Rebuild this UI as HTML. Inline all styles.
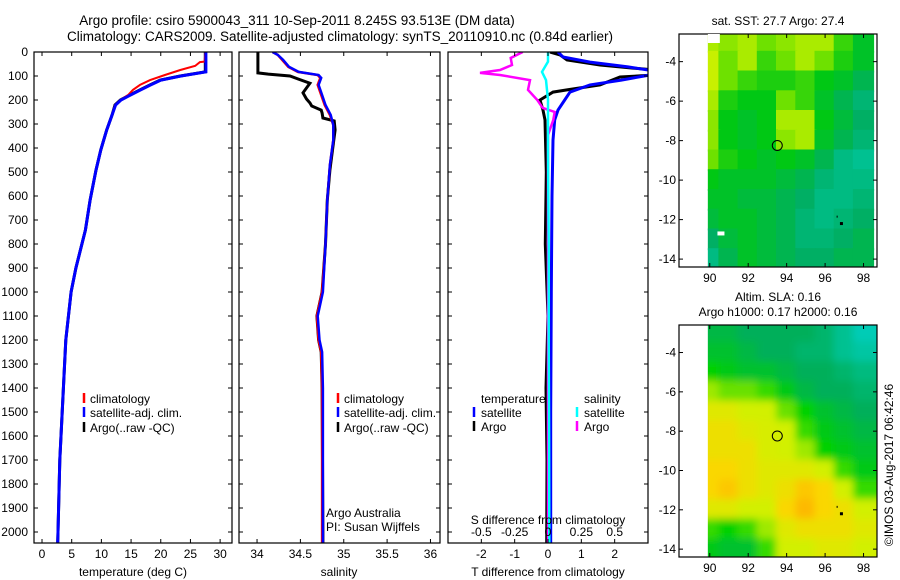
<!DOCTYPE html>
<html><head><meta charset="utf-8"><style>
html,body{margin:0;padding:0;background:#fff;}
svg{display:block;font-family:"Liberation Sans",sans-serif;}
</style></head><body>
<svg id="c" width="900" height="580" viewBox="0 0 900 580">
<text x="297" y="25" font-size="13.5" text-anchor="middle">Argo profile: csiro 5900043_311 10-Sep-2011 8.245S 93.513E (DM data)</text>
<text x="340" y="41" font-size="13.5" text-anchor="middle">Climatology: CARS2009. Satellite-adjusted climatology: synTS_20110910.nc (0.84d earlier)</text>
<text x="778" y="25" font-size="12" text-anchor="middle">sat. SST: 27.7 Argo: 27.4</text>
<text x="778" y="301" font-size="12" text-anchor="middle">Altim. SLA: 0.16</text>
<text x="778" y="316" font-size="12" text-anchor="middle">Argo h1000: 0.17 h2000: 0.16</text>
<text transform="translate(893,465) rotate(-90)" font-size="12" text-anchor="middle">©IMOS 03-Aug-2017 06:42:46</text>
</svg>
<script>
// ---- data ----
const depthTicks=[0,100,200,300,400,500,600,700,800,900,1000,1100,1200,1300,1400,1500,1600,1700,1800,1900,2000];
const tempTicks=[0,5,10,15,20,25,30];
const salTicks=[34,34.5,35,35.5,36];
const tdiffTicks=[-2,-1,0,1,2];
const sdiffTicks=[-0.5,-0.25,0,0.25,0.5];
const sdiffTickLabels=["-0.5","-0.25","0","0.25","0.5"];
// temperature
const tDepthArgo=[0,83,100,117,137,158,179,200,221,262,325,408,492,617,742,900,1000,1200,1500,1700,2000,2045];
const tArgo=[27.5,27.5,23.3,19.9,18.2,16.5,14.8,13.2,12.3,11.8,10.9,9.9,9.1,8.1,7.3,5.7,4.9,4.0,3.4,3.0,2.7,2.65];
const tSat=[27.6,27.6,23.4,20.0,18.3,16.6,14.9,13.3,12.4,11.8,10.9,9.9,9.1,8.1,7.3,5.7,4.9,4.0,3.4,3.0,2.7,2.65];
const tDepthClim=[0,40,42,58,75,96,117,137,158,179,200,221,262,325,408,492,617,742,900,1000,1200,1500,1700,2000,2045];
const tClim=[27.5,27.4,26.6,25.8,23.3,20.7,18.2,16.5,15.3,14.5,13.2,12.3,11.8,10.9,9.9,9.1,8.1,7.3,5.7,4.9,4.0,3.4,3.0,2.7,2.65];
// salinity
const sDepthArgo=[0,87,92,100,112,130,170,196,212,225,242,254,275,287,325,408,492,617,800,1000,1100,1200,1250,1400,2000,2045];
const sArgo=[34.01,34.01,34.13,34.38,34.47,34.61,34.53,34.57,34.61,34.63,34.74,34.75,34.76,34.89,34.90,34.87,34.84,34.81,34.79,34.75,34.69,34.71,34.74,34.75,34.76,34.76];
const sDepthClim=[0,12,33,62,83,96,108,137,179,221,262,304,367,471,617,800,1000,1100,1200,1250,1400,2000,2045];
const sClim=[34.18,34.24,34.29,34.36,34.47,34.70,34.73,34.70,34.74,34.78,34.84,34.88,34.88,34.84,34.81,34.79,34.75,34.69,34.71,34.74,34.75,34.75,34.75];
const sSat=[34.18,34.24,34.30,34.37,34.48,34.71,34.74,34.71,34.75,34.79,34.85,34.88,34.88,34.84,34.81,34.79,34.76,34.70,34.72,34.75,34.76,34.76,34.76];
// differences
const dDepthBlue=[0,21,42,62,79,92,117,137,167,200,242,283,367,600,1000,1500,2045];
const dTBlue=[0.3,0.45,1.26,2.4,3.2,3.2,2.2,1.26,0.66,0.5,0.3,0.2,0.15,0.12,0.1,0.08,0.08];
const dDepthBlack=[0,12,33,54,67,75,96,104,137,158,167,200,242,283,500,800,1100,1400,1700,2045];
const dTBlack=[0.06,0.36,0.57,1.56,2.55,3.2,3.2,2.16,1.56,0.57,0.15,-0.24,-0.15,-0.09,-0.05,-0.08,0.0,-0.06,-0.03,-0.04];
const dDepthMag=[0,25,54,75,87,96,117,158,200,233,250,283,346,408,800,1500,2045];
const dSMag=[-0.19,-0.28,-0.27,-0.36,-0.51,-0.36,-0.135,-0.15,-0.08,-0.04,0.05,0.04,0.0,0.0,0.0,0.0,0.0];
const dDepthCyan=[0,40,83,117,200,400,800,1200,1600,2045];
const dSCyan=[0,0,-0.045,-0.015,0,0,0.005,0.005,0.008,0.01];
// maps
const mapLons=[90,91,92,93,94,95,96,97,98];
const mapLats=[-3,-4,-5,-6,-7,-8,-9,-10,-11,-12,-13,-14];
const lonTicks=[90,92,94,96,98];
const latTicks=[-4,-6,-8,-10,-12,-14];
const sstGrid=[
[0.8,0.75,0.8,0.7,0.75,0.8,0.8,0.6,0.45],
[0.85,0.7,0.8,0.6,0.7,0.8,0.7,0.55,0.45],
[0.85,0.7,0.6,0.55,0.55,0.6,0.5,0.45,0.35],
[0.8,0.55,0.5,0.5,0.7,0.6,0.45,0.35,0.25],
[0.75,0.5,0.45,0.5,0.8,0.8,0.5,0.4,0.3],
[0.75,0.5,0.45,0.5,0.75,0.8,0.45,0.35,0.25],
[0.7,0.55,0.5,0.45,0.5,0.45,0.35,0.2,0.15],
[0.5,0.45,0.45,0.45,0.4,0.35,0.25,0.2,0.2],
[0.45,0.45,0.4,0.4,0.35,0.3,0.2,0.2,0.25],
[0.4,0.45,0.45,0.4,0.35,0.25,0.2,0.25,0.3],
[0.3,0.4,0.45,0.4,0.35,0.25,0.25,0.3,0.35],
[0.2,0.35,0.45,0.4,0.35,0.3,0.3,0.35,0.35]];
const slaGrid=[
[0.35,0.35,0.3,0.3,0.3,0.3,0.25,0.15,0.05],
[0.4,0.4,0.35,0.3,0.3,0.25,0.25,0.15,0.1],
[0.5,0.45,0.4,0.4,0.35,0.3,0.3,0.25,0.2],
[0.65,0.6,0.6,0.55,0.45,0.35,0.3,0.3,0.25],
[0.75,0.75,0.7,0.7,0.6,0.5,0.4,0.35,0.3],
[0.8,0.8,0.75,0.72,0.7,0.55,0.45,0.4,0.35],
[0.8,0.8,0.8,0.72,0.7,0.65,0.5,0.45,0.4],
[0.85,0.85,0.8,0.75,0.75,0.75,0.7,0.55,0.45],
[0.85,0.9,0.8,0.75,0.8,0.9,0.85,0.7,0.55],
[0.75,0.75,0.7,0.7,0.85,0.95,0.85,0.8,0.7],
[0.55,0.5,0.55,0.65,0.75,0.8,0.8,0.8,0.75],
[0.45,0.4,0.4,0.55,0.7,0.7,0.75,0.75,0.7]];
const argoLon=93.513, argoLat=-8.245;

// ---- drawing ----
const svg=document.getElementById('c');
const NS='http://www.w3.org/2000/svg';
function mk(tag,attrs,parent){const e=document.createElementNS(NS,tag);for(const k in attrs)e.setAttribute(k,attrs[k]);(parent||svg).appendChild(e);return e;}
const PY0=52,PY1=543;
const yD=d=>PY0+d*0.24;

function panel(name,x0,x1,vmin,vmax){
  const sx=v=>x0+(v-vmin)/(vmax-vmin)*(x1-x0);
  const g=mk('g',{});
  
  
  const cp=mk('clipPath',{id:'cp-'+name},g);
  mk('rect',{x:x0,y:PY0,width:x1-x0,height:PY1-PY0},cp);
  const lines=mk('g',{'clip-path':'url(#cp-'+name+')'},g);
  return {g,sx,lines,x0,x1};
}
function frame(p){
  const r=mk('rect',{x:p.x0,y:PY0,width:p.x1-p.x0,height:PY1-PY0,fill:'none',stroke:'#000','stroke-width':1.2},p.g);
  
  
  depthTicks.forEach(d=>{
    mk('line',{x1:p.x0,x2:p.x0+4,y1:yD(d),y2:yD(d),stroke:'#000'},p.g);
    mk('line',{x1:p.x1-4,x2:p.x1,y1:yD(d),y2:yD(d),stroke:'#000'},p.g);
  });
}
function xticks(p,ticks,labels,ly,name){
  ticks.forEach((t,i)=>{
    const x=p.sx(t);
    mk('line',{x1:x,x2:x,y1:PY0,y2:PY0+4,stroke:'#000'},p.g);
    mk('line',{x1:x,x2:x,y1:PY1-4,y2:PY1,stroke:'#000'},p.g);
    if(ly){const tx=mk('text',{x:x,y:ly,'font-size':12,'text-anchor':'middle'},p.g);tx.textContent=labels?labels[i]:String(t);
    
    }
  });
}
function series(p,vals,depths,color,w,name,scale){
  const pts=vals.map((v,i)=>p.sx(v*(scale||1)).toFixed(1)+','+yD(depths[i]).toFixed(1)).join(' ');
  const pl=mk('polyline',{points:pts,fill:'none',stroke:color,'stroke-width':w,'stroke-linejoin':'miter'},p.lines);
  
  
}
function txt(x,y,s,name,anchor){const t=mk('text',{x:x,y:y,'font-size':12,'text-anchor':anchor||'start'});t.textContent=s;
  
  return t;}
function legendMark(x,y,color,name){const l=mk('line',{x1:x,x2:x,y1:y-10,y2:y,stroke:color,'stroke-width':2.5});
  
  }

// panel 1 temperature
const p1=panel('temperature-panel',34,232,-1.35,32);
series(p1,tArgo,tDepthArgo,'#000',3,'argo-temperature-line');
series(p1,tClim,tDepthClim,'#f00',2,'climatology-temperature-line');
series(p1,tSat,tDepthArgo,'#00f',3,'satellite-temperature-line');
frame(p1);xticks(p1,tempTicks,null,558,'temperature-tick-label');
depthTicks.forEach(d=>{txt(28,yD(d)+4,String(d),'depth-tick-label','end');});
txt(133,576,'temperature (deg C)','temperature-axis-title','middle');
legendMark(84,403,'#f00','legend-climatology-mark');txt(90,403,'climatology','legend-climatology');
legendMark(84,417,'#00f','legend-satellite-mark');txt(90,417,'satellite-adj. clim.','legend-satellite');
legendMark(84,432,'#000','legend-argo-mark');txt(90,432,'Argo(..raw -QC)','legend-argo');

// panel 2 salinity
const p2=panel('salinity-panel',239,440,33.792,36.11);
series(p2,sArgo,sDepthArgo,'#000',3,'argo-salinity-line');
series(p2,sClim,sDepthClim,'#f00',2.5,'climatology-salinity-line');
series(p2,sSat,sDepthClim,'#00f',2.5,'satellite-salinity-line');
frame(p2);xticks(p2,salTicks,["34","34.5","35","35.5","36"],558,'salinity-tick-label');
txt(339,576,'salinity','salinity-axis-title','middle');
legendMark(338,403,'#f00','legend2-climatology-mark');txt(344,403,'climatology','legend2-climatology');
legendMark(338,417,'#00f','legend2-satellite-mark');txt(344,417,'satellite-adj. clim.','legend2-satellite');
legendMark(338,432,'#000','legend2-argo-mark');txt(344,432,'Argo(..raw -QC)','legend2-argo');
txt(326,517,'Argo Australia','credit-line1');
txt(326,531,'PI: Susan Wijffels','credit-line2');

// panel 3 differences
const p3=panel('difference-panel',448,648,-3,3);
series(p3,dTBlack,dDepthBlack,'#000',3,'argo-t-difference-line');
series(p3,dTBlue,dDepthBlue,'#00f',3,'satellite-t-difference-line');
series(p3,dSMag,dDepthMag,'#f0f',2.5,'argo-s-difference-line',4);
series(p3,dSCyan,dDepthCyan,'#0ff',2.5,'satellite-s-difference-line',4);
frame(p3);xticks(p3,tdiffTicks,null,558,'tdiff-tick-label');
sdiffTicks.forEach((t,i)=>{txt(p3.sx(t*4),536,sdiffTickLabels[i],'sdiff-tick-label','middle');});
txt(548,524,'S difference from climatology','sdiff-axis-title','middle');
txt(548,576,'T difference from climatology','tdiff-axis-title','middle');
txt(481,403,'temperature','legend3-temperature-header');txt(584,403,'salinity','legend3-salinity-header');
legendMark(474,417,'#00f','legend3-t-satellite-mark');txt(481,417,'satellite','legend3-t-satellite');
legendMark(474,431,'#000','legend3-t-argo-mark');txt(481,431,'Argo','legend3-t-argo');
legendMark(577,417,'#0ff','legend3-s-satellite-mark');txt(584,417,'satellite','legend3-s-satellite');
legendMark(577,431,'#f0f','legend3-s-argo-mark');txt(584,431,'Argo','legend3-s-argo');

// maps
function lerpCol(stops,v){
  v=Math.max(0,Math.min(1,v));
  for(let i=1;i<stops.length;i++){if(v<=stops[i][0]){const a=stops[i-1],b=stops[i],f=(v-a[0])/(b[0]-a[0]);
    return 'rgb('+[1,2,3].map(k=>Math.round(a[k]+(b[k]-a[k])*f)).join(',')+')';}}
  const s=stops[stops.length-1];return 'rgb('+s[1]+','+s[2]+','+s[3]+')';
}
const sstStops=[[0,0,210,190],[0.3,0,175,100],[0.5,0,200,20],[0.7,110,225,0],[0.85,200,240,0],[1,240,250,0]];
const slaStops=[[0,0,210,200],[0.3,0,175,90],[0.5,0,210,0],[0.7,210,240,0],[0.85,250,215,0],[1,255,170,0]];
function map(name,x0,x1,y0,y1,lonMin,lonMax,latTop,latBot,grid,stops,blur){
  const sx=l=>x0+(l-lonMin)/(lonMax-lonMin)*(x1-x0);
  const sy=l=>y0+(latTop-l)/(latTop-latBot)*(y1-y0);
  const g=mk('g',{});
  
  
  const cp=mk('clipPath',{id:'cp-'+name},g);
  mk('rect',{x:sx(89.9),y:y0,width:x1-sx(89.9),height:y1-y0},cp);
  const cells=mk('g',{'clip-path':'url(#cp-'+name+')'},g);
  const inner=mk('g',blur?{filter:'url(#blur)'}:{},cells);
  const nR=mapLats.length,nC=mapLons.length;
  mapLats.forEach((lat,r)=>mapLons.forEach((lon,c)=>{
    // edge cells extended outward so blur does not fade at borders
    const ext=blur?2:0;
    const l0=lon-0.5-(c===0?ext:0), l1=lon+0.5+(c===nC-1?ext:0);
    const t0=lat+0.5+(r===0?ext:0), b0=lat-0.5-(r===nR-1?ext:0);
    const rc=mk('rect',{x:(sx(l0)-1).toFixed(1),y:(sy(t0)-1).toFixed(1),width:(sx(l1)-sx(l0)+2).toFixed(1),height:(sy(b0)-sy(t0)+2).toFixed(1),fill:lerpCol(stops,grid[r][c])},inner);
    
    
  }));
  mk('rect',{x:x0,y:y0,width:x1-x0,height:y1-y0,fill:'none',stroke:'#000','stroke-width':1.2},g);
  lonTicks.forEach(l=>{const x=sx(l);mk('line',{x1:x,x2:x,y1:y0,y2:y0+4,stroke:'#000'},g);mk('line',{x1:x,x2:x,y1:y1-4,y2:y1,stroke:'#000'},g);
    txt(x,y1+15,String(l),'lon-tick-label','middle');});
  latTicks.forEach(l=>{const y=sy(l);mk('line',{x1:x0,x2:x0+4,y1:y,y2:y,stroke:'#000'},g);mk('line',{x1:x1-4,x2:x1,y1:y,y2:y,stroke:'#000'},g);
    txt(x0-3,y+4,String(l),'lat-tick-label','end');});
  const c=mk('circle',{cx:sx(argoLon),cy:sy(argoLat),r:5,fill:'none',stroke:'#000','stroke-width':1},g);
  
  
  mk('rect',{x:sx(96.85)-1.5,y:sy(-12.2)-1.5,width:3,height:3,fill:'#000'},g);
  mk('rect',{x:sx(96.6),y:sy(-11.85)-1,width:1,height:2,fill:'#000'},g);
  return {g,sx,sy};
}
const defs=mk('defs',{});
const f=mk('filter',{id:'blur',x:'-10%',y:'-10%',width:'120%',height:'120%'},defs);
mk('feGaussianBlur',{stdDeviation:4},f);
const m1=map('sst-map',679,877,34,267,88.4,98.7,-2.6,-14.4,sstGrid,sstStops,false);
mk('rect',{x:m1.sx(89.9),y:34,width:12,height:9,fill:'#fff'},m1.g);
mk('rect',{x:m1.sx(90.4),y:m1.sy(-12.6),width:7,height:4,fill:'#fff'},m1.g);
map('sla-map',679,877,325,557,88.4,98.7,-2.6,-14.4,slaGrid,slaStops,true);
</script>
</body></html>
